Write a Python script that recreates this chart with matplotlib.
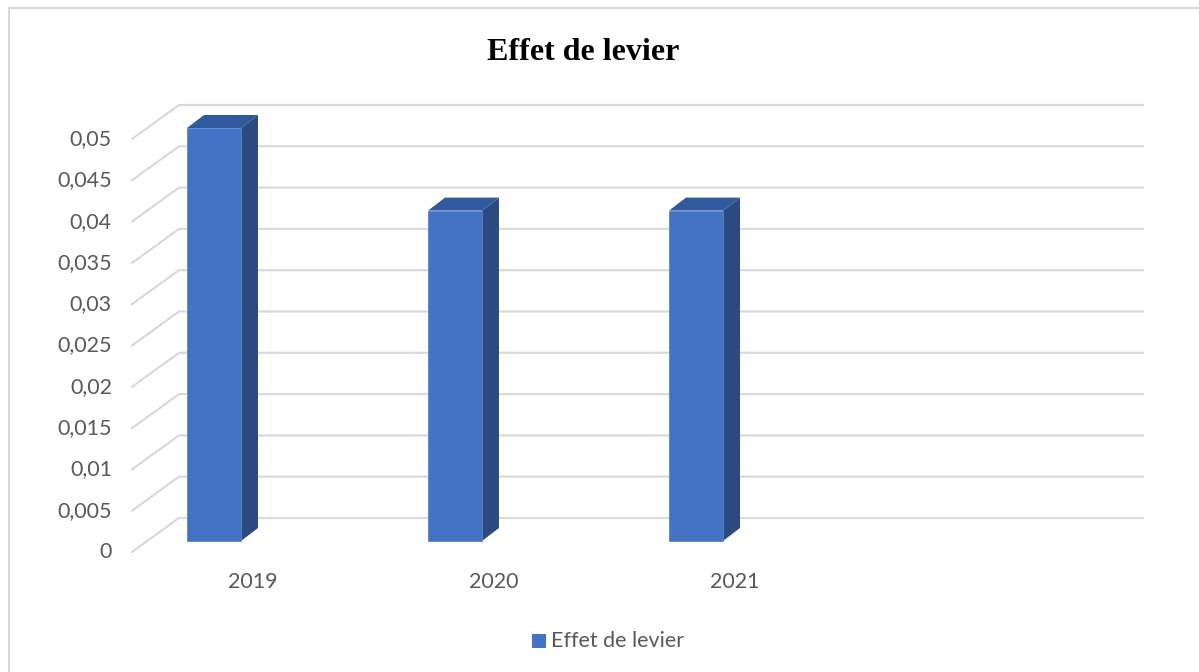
import matplotlib.pyplot as plt
from matplotlib.patches import Polygon, Rectangle

# Chart data
years = ['2019', '2020', '2021', '']
values = [0.05, 0.04, 0.04]
y_ticks = [0, 0.005, 0.01, 0.015, 0.02, 0.025, 0.03, 0.035, 0.04, 0.045, 0.05]
y_labels = ['0', '0,005', '0,01', '0,015', '0,02', '0,025', '0,03', '0,035', '0,04', '0,045', '0,05']

front_col = '#4472C4'
top_col = '#31599E'
side_col = '#2B4A80'
grid_col = '#D9D9D9'
text_col = '#595959'

fig = plt.figure(figsize=(11.99, 6.72), dpi=100)
ax = fig.add_axes([132 / 1199, 120 / 672, 964 / 1199, 413 / 672])
ax.set_xlim(0, len(years))
ax.set_ylim(0, 0.05)
ax.axis('off')

# oblique offsets (data units) for the 3D look
px_x = len(years) / 964
px_y = 0.05 / 413
wall_dx, wall_dy = 47 * px_x, 34 * px_y
bar_dx, bar_dy = 15 * px_x, 11 * px_y
depth_dx, depth_dy = 17 * px_x, 13 * px_y
bar_w = 0.224
bar_shift = -0.222

# grid lines: diagonal floor/side edge then back wall line
for v, lab in zip(y_ticks, y_labels):
    ax.plot([0, wall_dx, len(years) + wall_dx], [v, v + wall_dy, v + wall_dy],
            color=grid_col, lw=1.6, clip_on=False, zorder=1)
    ax.text(-20 * px_x, v, lab, ha='right', va='center', fontsize=15.5,
            color=text_col, family='Lato')

# bars
for i, v in enumerate(values):
    x0 = i + 0.5 + bar_shift - bar_w / 2 + bar_dx
    x1 = x0 + bar_w
    y0 = bar_dy
    y1 = v + bar_dy
    ax.add_patch(Polygon([(x1, y0), (x1 + depth_dx, y0 + depth_dy),
                          (x1 + depth_dx, y1 + depth_dy), (x1, y1)],
                         closed=True, fc=side_col, ec='none', clip_on=False, zorder=3))
    ax.add_patch(Polygon([(x0, y1), (x1, y1), (x1 + depth_dx, y1 + depth_dy),
                          (x0 + depth_dx, y1 + depth_dy)],
                         closed=True, fc=top_col, ec='none', clip_on=False, zorder=3))
    ax.add_patch(Rectangle((x0, y0), bar_w, v, fc=front_col, ec='#5B84CC', lw=0.6,
                           clip_on=False, zorder=4))

# category labels
for i, lab in enumerate(years):
    ax.text(i + 0.5, -30 * px_y, lab, ha='center', va='center', fontsize=15.5,
            color=text_col, family='Lato')

# title
fig.text(583 / 1199, 1 - 52 / 672, 'Effet de levier', ha='center', va='center',
         fontsize=23, fontweight='bold', family='Liberation Serif', color='black')

# legend
fig.patches.append(Rectangle((532 / 1199, 1 - 648 / 672), 14 / 1199, 14 / 672,
                             transform=fig.transFigure, fc=front_col, ec='none'))
fig.text(551 / 1199, 1 - 641 / 672, 'Effet de levier', ha='left', va='center',
         fontsize=15.5, color=text_col, family='Lato')

# chart border
fig.patches.append(Rectangle((9 / 1199, -0.05), 1.1, 1 - 8 / 672 + 0.05,
                             transform=fig.transFigure, fc='none', ec='#D9D9D9', lw=1.5))

plt.savefig('out.png', dpi=100)
